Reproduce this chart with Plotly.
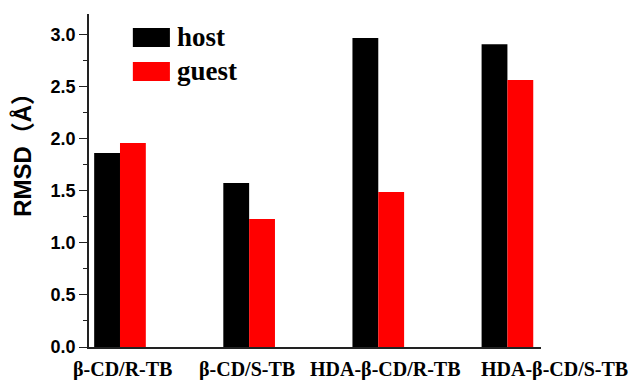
import plotly.graph_objects as go

categories = ["β-CD/R-TB", "β-CD/S-TB", "HDA-β-CD/R-TB", "HDA-β-CD/S-TB"]
host = [1.865, 1.575, 2.97, 2.91]
guest = [1.96, 1.23, 1.49, 2.565]
series_names = ["host", "guest"]
colors = ["#000000", "#ff0000"]
ytick_vals = [0.0, 0.5, 1.0, 1.5, 2.0, 2.5, 3.0]
ytick_text = ["0.0", "0.5", "1.0", "1.5", "2.0", "2.5", "3.0"]

xpos = list(range(len(categories)))

fig = go.Figure()
for name, vals, c in zip(series_names, [host, guest], colors):
    fig.add_trace(go.Bar(x=xpos, y=vals, name=name, marker=dict(color=c, line=dict(width=0)),
                         showlegend=False))

sans = "Liberation Sans, Arial, Noto Sans CJK SC"
serif = "Liberation Serif, Times New Roman, serif"

fig.update_layout(
    width=632, height=380,
    margin=dict(l=89, r=91, t=14, b=33),
    paper_bgcolor="white", plot_bgcolor="white",
    barmode="group", bargap=0.6, bargroupgap=0,
    xaxis=dict(
        range=[-0.24, 3.26], tickvals=xpos, showticklabels=False,
        showline=True, linecolor="#222", linewidth=1.5, ticks="",
        showgrid=False, zeroline=False, automargin=False,
    ),
    yaxis=dict(
        range=[0, 3.2], tickvals=ytick_vals, ticktext=ytick_text,
        showline=True, linecolor="#222", linewidth=1.5,
        ticks="outside", ticklen=8, tickwidth=1.2, tickcolor="#222",
        minor=dict(ticks="outside", ticklen=4, tickwidth=1, tickcolor="#222", dtick=0.25),
        showgrid=False, zeroline=False, automargin=False,
        tickfont=dict(family=sans, size=18, color="black", weight="bold"),
    ),
)

# category labels (the last one sits shifted right as in the original)
label_shift = [3, -2, 7, 47]
for xp, lab, sh in zip(xpos, categories, label_shift):
    fig.add_annotation(x=xp, xref="x", y=0, yref="paper", yanchor="top", yshift=-9,
                       xshift=sh, text=lab, showarrow=False,
                       font=dict(family=serif, size=20, color="black", weight="bold"))

# y-axis title
fig.add_annotation(xref="paper", yref="paper", x=-0.146, y=0.595, text="RMSD（Å）",
                   textangle=-90, showarrow=False, xanchor="center", yanchor="middle",
                   font=dict(family=sans, size=24, color="black", weight="bold"))

# legend drawn as boxes and labels
legend_y = [(0.958, 0.901), (0.856, 0.799)]
for (y1, y0), name, c in zip(legend_y, series_names, colors):
    fig.add_shape(type="rect", xref="paper", yref="paper", x0=0.097, x1=0.179, y0=y0, y1=y1,
                  fillcolor=c, line=dict(width=0))
    fig.add_annotation(xref="paper", yref="paper", x=0.19, y=(y0 + y1) / 2, text=name,
                       showarrow=False, xanchor="left", yanchor="middle",
                       font=dict(family=serif, size=27, color="black", weight="bold"))

fig.write_html("out.html", config={"displayModeBar": False},
               post_script="document.body.style.margin='0';document.body.style.overflow='hidden';")
